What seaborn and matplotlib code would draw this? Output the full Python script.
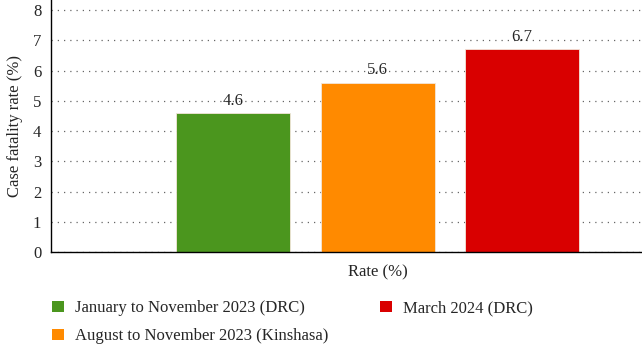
import seaborn as sns
import pandas as pd
import matplotlib.pyplot as plt
from matplotlib.patches import Patch

categories = ["Rate (%)"]
periods = ["January to November 2023 (DRC)",
           "August to November 2023 (Kinshasa)",
           "March 2024 (DRC)"]
rates = [4.6, 5.6, 6.7]
colors = ["#4b961e", "#ff8a00", "#d90000"]

df = pd.DataFrame({"cat": categories * 3, "period": periods, "rate": rates})

sns.set_style("white")
plt.rcParams["font.family"] = ["Liberation Serif", "DejaVu Serif"]
fs = 12

fig = plt.figure(figsize=(6.42, 3.44), dpi=100)
ax = fig.add_axes([0.0794, 0.267, 0.921, 0.733])

sns.barplot(data=df, x="cat", y="rate", hue="period", hue_order=periods,
            palette=colors, saturation=1, width=0.8, gap=0.21, ax=ax,
            legend=False, edgecolor="#f3e6da", linewidth=0.6)

for cont in ax.containers:
    ax.bar_label(cont, fmt="%.1f", padding=3, fontsize=fs)

ax.set_ylim(0, 8.33)
ax.set_xlim(-0.604, 0.489)
ax.set_yticks(range(0, 9))
ax.yaxis.grid(True, linestyle=(0, (1, 4)), color="#666666", linewidth=0.9)
ax.set_axisbelow(True)
ax.tick_params(axis="both", length=0, labelsize=fs)
ax.tick_params(axis="x", pad=9)
ax.tick_params(axis="y", pad=7)
ax.set_xlabel("")
ax.set_ylabel("Case fatality rate (%)", fontsize=fs, labelpad=7)
for s in ["top", "right"]:
    ax.spines[s].set_visible(False)
for s in ["left", "bottom"]:
    ax.spines[s].set_color("black")
    ax.spines[s].set_linewidth(1.0)

handles = [Patch(facecolor=c, edgecolor="none") for c in colors]
fig.legend(handles, periods, loc="upper left", bbox_to_anchor=(0.081, 0.127),
           ncol=2, frameon=False, fontsize=fs, handlelength=0.72,
           handleheight=0.72, handletextpad=0.65, columnspacing=3.1,
           labelspacing=0.72, borderaxespad=0, borderpad=0)

fig.savefig("out.png", dpi=100)
